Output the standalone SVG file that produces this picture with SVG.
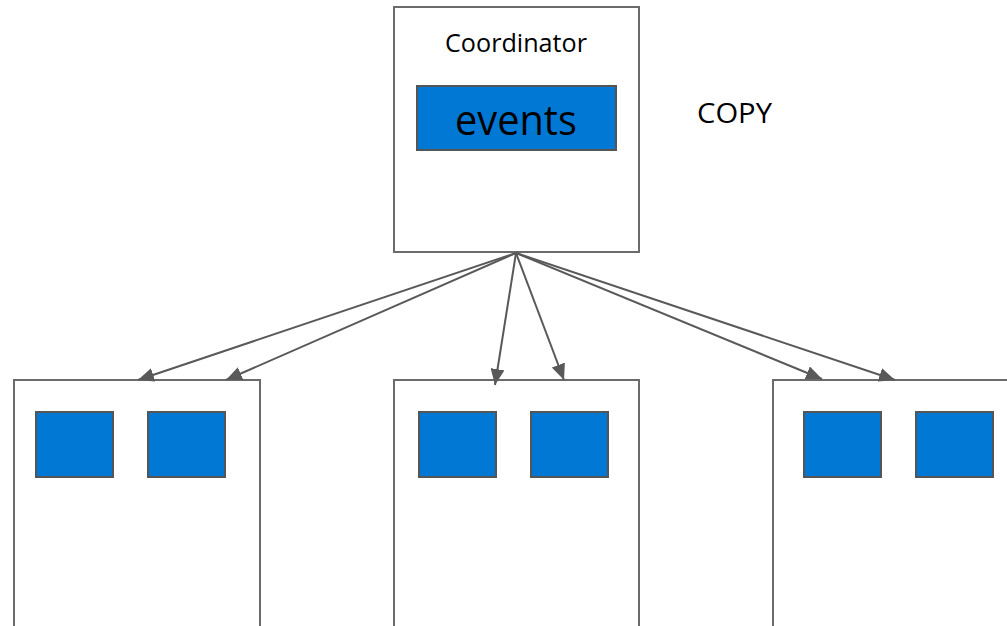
<svg xmlns="http://www.w3.org/2000/svg" width="1007" height="626" viewBox="0 0 1007 626">
  <style>
    .box { fill: #ffffff; stroke: #6b6b6b; stroke-width: 2; }
    .cell { fill: #0078d4; stroke: #555555; stroke-width: 2; }
    .edge { fill: none; stroke: #595959; stroke-width: 2; }
    .label { font-family: "Open Sans", "Liberation Sans", sans-serif; fill: #000000; }
  </style>
  <defs>
    <marker id="arrow" markerUnits="userSpaceOnUse" markerWidth="18" markerHeight="14" refX="16" refY="7" orient="auto">
      <path d="M0,0 L16,7 L0,14 Z" fill="#595959"/>
    </marker>
  </defs>

  <rect width="1007" height="626" fill="#ffffff"/>

  <!-- coordinator -->
  <g id="coordinator">
    <rect class="box" x="394" y="7" width="245" height="245"/>
    <text class="label" x="445" y="52" font-size="26" textLength="142" lengthAdjust="spacingAndGlyphs">Coordinator</text>
    <rect class="cell" x="417" y="86" width="199" height="64"/>
    <text class="label" x="455" y="135" font-size="42" textLength="122" lengthAdjust="spacingAndGlyphs">events</text>
  </g>

  <g id="copy-label">
    <text class="label" x="697" y="123" font-size="27" textLength="75" lengthAdjust="spacingAndGlyphs">COPY</text>
  </g>

  <!-- workers -->
  <g id="worker-1">
    <rect class="box" x="14" y="380" width="246" height="250"/>
    <rect class="cell" x="36" y="412" width="77" height="65"/>
    <rect class="cell" x="148" y="412" width="77" height="65"/>
  </g>
  <g id="worker-2">
    <rect class="box" x="394" y="380" width="245" height="250"/>
    <rect class="cell" x="419" y="412" width="77" height="65"/>
    <rect class="cell" x="531" y="412" width="77" height="65"/>
  </g>
  <g id="worker-3">
    <rect class="box" x="773" y="380" width="250" height="250"/>
    <rect class="cell" x="804" y="412" width="77" height="65"/>
    <rect class="cell" x="916" y="412" width="77" height="65"/>
  </g>

  <!-- replication arrows -->
  <g id="connectors">
    <line class="edge" x1="516" y1="253" x2="138" y2="380" marker-end="url(#arrow)"/>
    <line class="edge" x1="516" y1="253" x2="226" y2="380" marker-end="url(#arrow)"/>
    <line class="edge" x1="516" y1="253" x2="495" y2="385" marker-end="url(#arrow)"/>
    <line class="edge" x1="516" y1="253" x2="564" y2="380" marker-end="url(#arrow)"/>
    <line class="edge" x1="516" y1="253" x2="822" y2="379" marker-end="url(#arrow)"/>
    <line class="edge" x1="516" y1="253" x2="895" y2="380" marker-end="url(#arrow)"/>
  </g>
</svg>
